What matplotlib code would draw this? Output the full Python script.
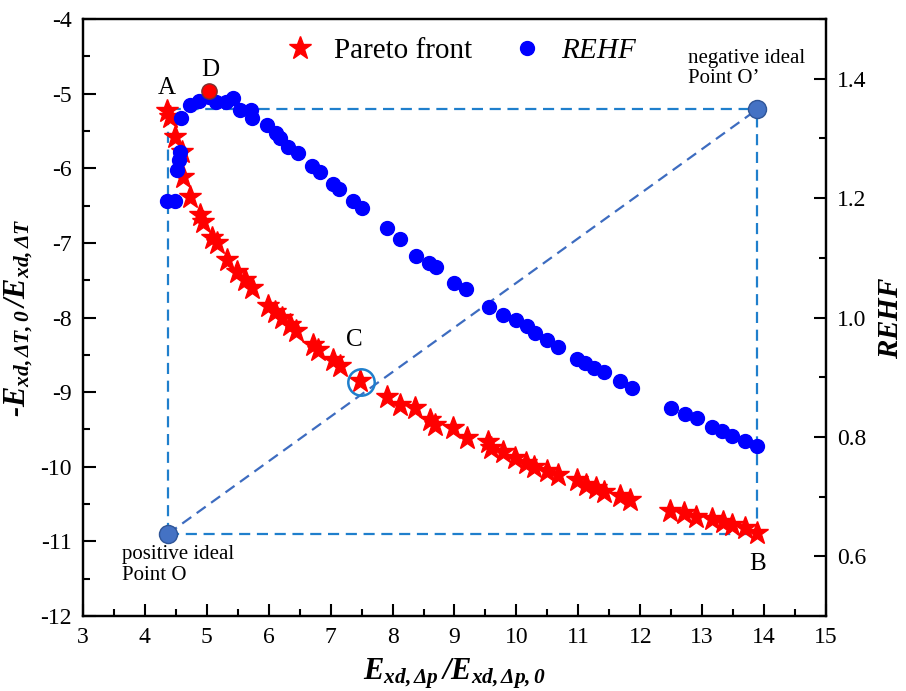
import matplotlib
matplotlib.use("Agg")
import matplotlib.pyplot as plt
from matplotlib.ticker import MultipleLocator

# ===========================
# Data
# ===========================

pareto_x = [4.357, 4.406, 4.486, 4.599, 4.616, 4.729, 4.890, 4.939, 5.084, 5.165,
            5.326, 5.488, 5.617, 5.730, 5.989, 6.102, 6.215, 6.344, 6.441, 6.716,
            6.796, 7.039, 7.152, 7.475, 7.911, 8.121, 8.363, 8.606, 8.687, 8.977,
            9.204, 9.543, 9.591, 9.785, 9.979, 10.157, 10.286, 10.496, 10.674, 10.981,
            11.126, 11.288, 11.417, 11.675, 11.837, 12.483, 12.709, 12.903, 13.162, 13.339,
            13.485, 13.695, 13.889]
pareto_y = [-5.233, -5.314, -5.582, -5.783, -6.118, -6.386, -6.627, -6.721, -6.936, -7.003,
            -7.231, -7.391, -7.499, -7.606, -7.847, -7.928, -8.008, -8.102, -8.182, -8.370,
            -8.437, -8.571, -8.651, -8.853, -9.067, -9.174, -9.214, -9.375, -9.442, -9.483,
            -9.617, -9.670, -9.751, -9.804, -9.885, -9.952, -10.005, -10.059, -10.113, -10.180,
            -10.247, -10.287, -10.340, -10.394, -10.448, -10.595, -10.622, -10.676, -10.702, -10.743,
            -10.783, -10.823, -10.890]

rehf_x = [4.357, 4.486, 4.519, 4.551, 4.567, 4.583, 4.729, 4.874, 5.036, 5.149,
          5.310, 5.423, 5.536, 5.714, 5.730, 5.973, 6.118, 6.183, 6.312, 6.473,
          6.700, 6.829, 7.039, 7.136, 7.362, 7.507, 7.911, 8.121, 8.380, 8.590,
          8.703, 8.994, 9.188, 9.559, 9.785, 9.995, 10.173, 10.302, 10.496, 10.674,
          10.981, 11.110, 11.255, 11.417, 11.675, 11.869, 12.499, 12.725, 12.919, 13.162,
          13.323, 13.485, 13.695, 13.889]
rehf_y = [1.195, 1.195, 1.247, 1.264, 1.277, 1.334, 1.356, 1.363, 1.369, 1.361,
          1.361, 1.368, 1.348, 1.348, 1.334, 1.323, 1.309, 1.301, 1.286, 1.276,
          1.254, 1.244, 1.224, 1.215, 1.195, 1.184, 1.150, 1.132, 1.103, 1.092,
          1.085, 1.058, 1.048, 1.018, 1.005, 0.995, 0.985, 0.974, 0.963, 0.951,
          0.931, 0.924, 0.916, 0.908, 0.894, 0.882, 0.849, 0.839, 0.831, 0.817,
          0.810, 0.802, 0.794, 0.785]

# ideal points and special points
point_O = (4.37, -10.90)
point_O2 = (13.89, -5.21)
point_C = (7.49, -8.87)
point_D = (5.03, 1.38)   # on the REHF axis

# ===========================
# Style
# ===========================

plt.rcParams["font.family"] = ["Liberation Serif", "DejaVu Serif"]
plt.rcParams["axes.unicode_minus"] = False
plt.rcParams["mathtext.fontset"] = "custom"
plt.rcParams["mathtext.rm"] = "Liberation Serif"
plt.rcParams["mathtext.it"] = "Liberation Serif:italic"
plt.rcParams["mathtext.bf"] = "Liberation Serif:bold:italic"

dash_col = "#1f7fcc"
diag_col = "#3d6cc0"

fig = plt.figure(figsize=(9.06, 6.91), dpi=100)
ax = fig.add_axes([0.0916, 0.1085, 0.8201, 0.864])
ax2 = ax.twinx()

# ===========================
# Dashed frame + diagonal
# ===========================

x0, y0 = point_O
x1, y1 = point_O2
ax.plot([x0, x0, x1], [y0, y1, y1], "--", color=dash_col, lw=1.6, dashes=(5, 3), zorder=1)
ax.plot([x0, x1, x1], [y0, y0, y1], "--", color=dash_col, lw=1.6, dashes=(5, 3), zorder=1)
ax.plot([x0, x1], [y0, y1], "--", color=diag_col, lw=1.6, dashes=(5, 3), zorder=1)

# ===========================
# Series
# ===========================

ax.plot(pareto_x, pareto_y, "*", color="red", ms=17, mec="red", zorder=3)
ax2.plot(rehf_x, rehf_y, "o", color="blue", ms=10, zorder=3)

ax.plot(*point_O, "o", color="#4472c4", mec="#2f5597", ms=13, zorder=4)
ax.plot(*point_O2, "o", color="#4472c4", mec="#2f5597", ms=13, zorder=4)
ax.plot(*point_C, "o", mfc="none", mec="#1f7fcc", mew=1.8, ms=19, zorder=4)

ax2.plot(*point_D, "o", color="red", mec="#7a3030", ms=11, zorder=5)

# legend handles
h1, = ax.plot([], [], "*", color="red", ms=17, label="Pareto front")
h2, = ax.plot([], [], "o", color="blue", ms=10, label="$\\it{REHF}$")
ax2.legend(handles=[h1, h2], loc="upper center", ncol=2, frameon=False,
           fontsize=21, bbox_to_anchor=(0.5, 1.0), handletextpad=0.15,
           columnspacing=0.9, borderaxespad=0.25)

# ===========================
# Annotations
# ===========================

ax.text(4.36, -4.92, "A", fontsize=18, ha="center", va="center")
ax.text(5.05, -4.68, "D", fontsize=18, ha="center", va="center")
ax.text(7.39, -8.30, "C", fontsize=18, ha="center", va="center")
ax.text(13.89, -11.30, "B", fontsize=18, ha="center", va="center")
ax.text(12.77, -4.40, "negative ideal\nPoint O\u2019", fontsize=15, ha="left", va="top",
        linespacing=1.1)
ax.text(3.63, -11.05, "positive ideal\nPoint O", fontsize=15, ha="left", va="top",
        linespacing=1.1)

# ===========================
# Axes
# ===========================

ax.set_xlim(3, 15)
ax.set_ylim(-12, -4)

ax.xaxis.set_major_locator(MultipleLocator(1))
ax.xaxis.set_minor_locator(MultipleLocator(0.5))
ax.yaxis.set_major_locator(MultipleLocator(1))
ax.yaxis.set_minor_locator(MultipleLocator(0.5))
ax2.yaxis.set_major_locator(MultipleLocator(0.2))
ax2.yaxis.set_minor_locator(MultipleLocator(0.1))
ax2.set_yticks(ax2.get_yticks())
ax2.set_yticklabels([f"{v:.1f}" for v in ax2.get_yticks()])
ax2.set_ylim(0.5, 1.5)

for a in (ax, ax2):
    a.tick_params(which="major", direction="in", length=9, width=1.5, labelsize=17, pad=8)
    a.tick_params(which="minor", direction="in", length=5, width=1.5)
    for s in a.spines.values():
        s.set_linewidth(1.6)

ax.set_xlabel(r"$\mathbf{E_{xd,\Delta p}\,/E_{xd,\Delta p,0}}$", fontsize=22, labelpad=6)
ax.set_ylabel(r"-$\mathbf{E_{xd,\Delta T,0}\,/E_{xd,\Delta T}}$", fontsize=22,
              fontweight="bold", fontstyle="italic", labelpad=4)
ax2.set_ylabel(r"$\mathbf{REHF}$", fontsize=21, labelpad=8)

fig.savefig("out.png", dpi=100)
